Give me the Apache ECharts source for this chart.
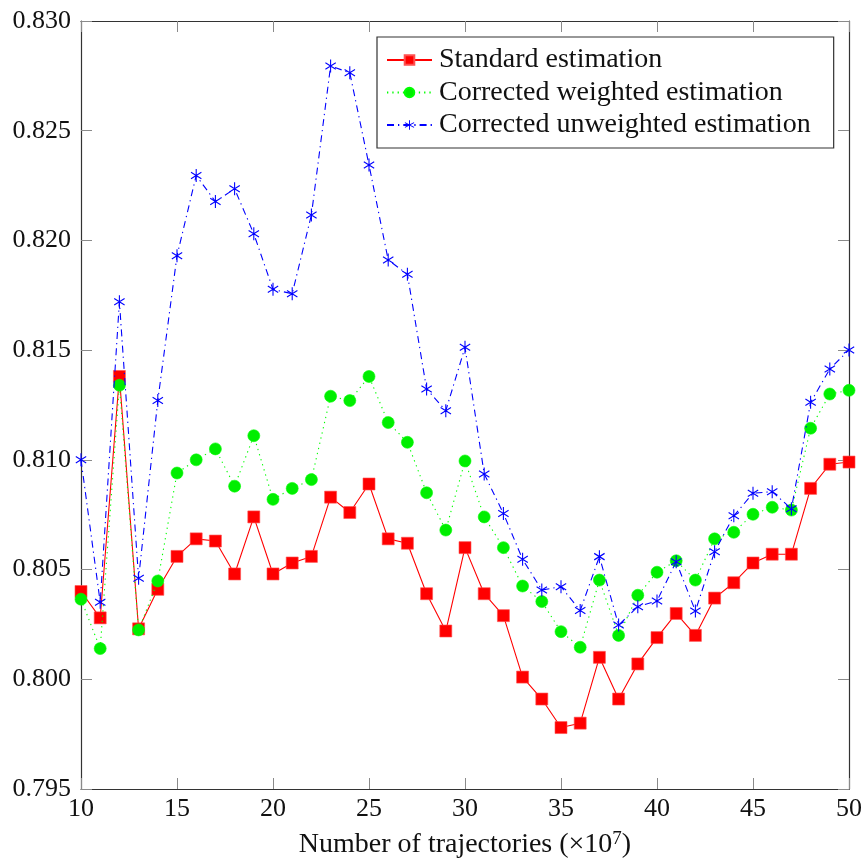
<!DOCTYPE html>
<html>
<head>
<meta charset="utf-8">
<script src="https://cdn.jsdelivr.net/npm/echarts@6/dist/echarts.min.js"></script>
<style>
  html, body { margin: 0; padding: 0; background: #fff; }
  #chart { width: 867px; height: 865px; }
</style>
</head>
<body>
<div id="chart"></div>
<script>
// Number of trajectories (x 10^7)
const trajectories = [10, 11, 12, 13, 14, 15, 16, 17, 18, 19, 20, 21, 22, 23, 24, 25, 26, 27, 28, 29, 30,
  31, 32, 33, 34, 35, 36, 37, 38, 39, 40, 41, 42, 43, 44, 45, 46, 47, 48, 49, 50];

const standardEstimation = [0.8040, 0.8028, 0.8138, 0.8023, 0.8041, 0.8056, 0.8064, 0.8063, 0.8048, 0.8074,
  0.8048, 0.8053, 0.8056, 0.8083, 0.8076, 0.8089, 0.8064, 0.8062, 0.8039, 0.8022,
  0.8060, 0.8039, 0.8029, 0.8001, 0.7991, 0.7978, 0.7980, 0.8010, 0.7991, 0.8007,
  0.8019, 0.8030, 0.8020, 0.8037, 0.8044, 0.8053, 0.8057, 0.8057, 0.8087, 0.8098, 0.8099];

const weightedEstimation = [0.80365, 0.8014, 0.8134, 0.80225, 0.80448, 0.8094, 0.8100, 0.8105, 0.8088, 0.8111,
  0.8082, 0.8087, 0.8091, 0.8129, 0.8127, 0.8138, 0.8117, 0.8108, 0.8085, 0.8068,
  0.80995, 0.8074, 0.8060, 0.80425, 0.80354, 0.80217, 0.80146, 0.80452, 0.8020, 0.80383,
  0.80488, 0.8054, 0.80452, 0.8064, 0.8067, 0.80752, 0.80784, 0.80771, 0.81144, 0.8130, 0.81317];

const unweightedEstimation = [0.8100, 0.80351, 0.81721, 0.8046, 0.8127, 0.8193, 0.82296, 0.82177, 0.82235, 0.8203,
  0.81777, 0.81757, 0.82116, 0.82795, 0.82764, 0.82344, 0.81911, 0.81846, 0.81323, 0.81224,
  0.81513, 0.80936, 0.80756, 0.80547, 0.80407, 0.80422, 0.80313, 0.80559, 0.80247, 0.80331,
  0.80357, 0.80536, 0.80311, 0.80581, 0.80745, 0.80848, 0.80855, 0.80777, 0.81262, 0.81414, 0.81501];

const seriesNames = ['Standard estimation', 'Corrected weighted estimation', 'Corrected unweighted estimation'];

const FONT = '"Liberation Serif", "DejaVu Serif", serif';

// Six-armed asterisk marker made of three thin filled bars
function asteriskPath() {
  const w = 0.09;
  let p = '';
  [90, 30, -30].forEach(a => {
    const t = a * Math.PI / 180;
    const dx = Math.cos(t), dy = Math.sin(t);
    const nx = -dy * w, ny = dx * w;
    const pts = [[dx + nx, dy + ny], [dx - nx, dy - ny], [-dx - nx, -dy - ny], [-dx + nx, -dy + ny]];
    p += 'M' + pts.map(q => q[0].toFixed(4) + ',' + q[1].toFixed(4)).join('L') + 'Z';
  });
  return 'path://' + p;
}

function pairs(values) {
  return trajectories.map((x, i) => [x, values[i]]);
}

const chart = echarts.init(document.getElementById('chart'), null, { renderer: 'canvas' });

const tickStyle = { show: true, inside: true, length: 11, lineStyle: { color: '#8a8a8a', width: 1 } };
const lineAxis = { show: true, lineStyle: { color: '#333', width: 1.2 } };

chart.setOption({
  animation: false,
  backgroundColor: '#fff',
  grid: { left: 81, right: 18, top: 21, bottom: 76, containLabel: false },
  legend: {
    orient: 'vertical',
    left: 377,
    top: 37,
    padding: [9, 23, 9, 9],
    itemGap: 4.5,
    itemWidth: 45,
    itemHeight: 12,
    backgroundColor: '#fff',
    borderColor: '#333',
    borderWidth: 1.2,
    borderRadius: 0,
    textStyle: { fontFamily: FONT, fontSize: 28, color: '#111', padding: [0, 0, 0, 2] },
    data: seriesNames
  },
  xAxis: [
    {
      type: 'value', min: 10, max: 50, interval: 5, position: 'bottom',
      axisLine: lineAxis, axisTick: tickStyle, splitLine: { show: false },
      axisLabel: { fontFamily: FONT, fontSize: 26, color: '#111', margin: 7 },
      name: 'Number of trajectories (×10{sup|7})',
      nameLocation: 'middle', nameGap: 41,
      nameTextStyle: {
        fontFamily: FONT, fontSize: 28, color: '#111',
        rich: { sup: { fontFamily: FONT, fontSize: 19, color: '#111', verticalAlign: 'top', padding: [0, 0, 10, 0] } }
      }
    },
    {
      type: 'value', min: 10, max: 50, interval: 5, position: 'top',
      axisLine: lineAxis, axisTick: tickStyle, splitLine: { show: false },
      axisLabel: { show: false }
    }
  ],
  yAxis: [
    {
      type: 'value', min: 0.795, max: 0.830, interval: 0.005, position: 'left',
      axisLine: lineAxis, axisTick: tickStyle, splitLine: { show: false },
      axisLabel: { fontFamily: FONT, fontSize: 26, color: '#111', margin: 10, formatter: v => v.toFixed(3) }
    },
    {
      type: 'value', min: 0.795, max: 0.830, interval: 0.005, position: 'right',
      axisLine: lineAxis, axisTick: tickStyle, splitLine: { show: false },
      axisLabel: { show: false }
    }
  ],
  series: [
    {
      name: seriesNames[0], type: 'line', data: pairs(standardEstimation),
      symbol: 'rect', symbolSize: 12,
      lineStyle: { color: '#ff0000', width: 1.1, type: 'solid' },
      itemStyle: { color: '#ff0000', borderColor: '#ff5050', borderWidth: 0.6 },
      z: 2
    },
    {
      name: seriesNames[1], type: 'line', data: pairs(weightedEstimation),
      symbol: 'circle', symbolSize: 12,
      lineStyle: { color: '#00ff00', width: 1.1, type: [1.3, 4] },
      itemStyle: { color: '#00ee00', borderColor: '#00ff00', borderWidth: 0.6 },
      z: 3
    },
    {
      name: seriesNames[2], type: 'line', data: pairs(unweightedEstimation),
      symbol: asteriskPath(), symbolSize: [12, 13], symbolKeepAspect: true,
      lineStyle: { color: '#0000ff', width: 1.1, type: [7, 4, 1.3, 4] },
      itemStyle: { color: '#0000ff' },
      z: 4
    }
  ]
});
</script>
</body>
</html>
